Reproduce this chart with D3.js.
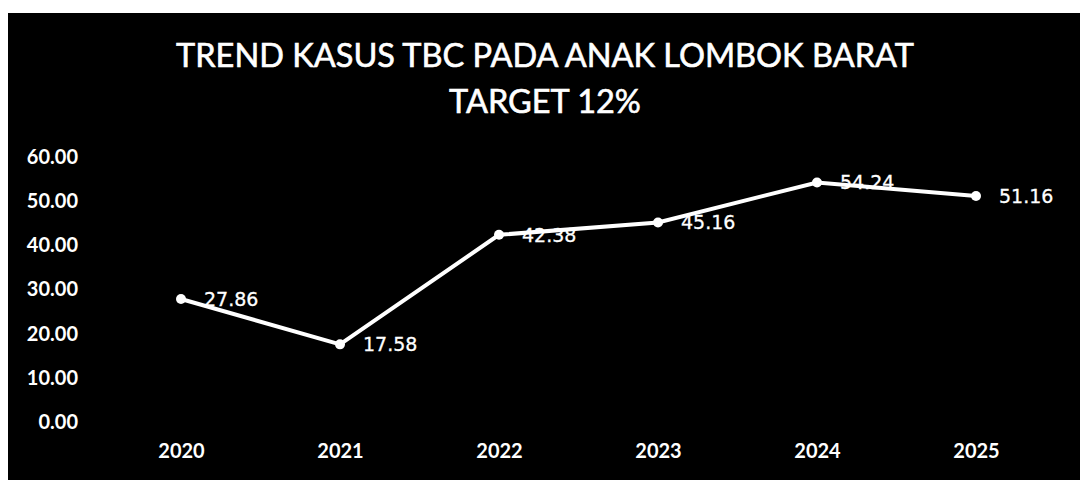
<html>
<style>
body { margin: 0; background: #fff; }
text { fill: #fff; }
</style>
<body>
<script src="https://cdn.jsdelivr.net/npm/d3@7"></script>
<script>

var years = ["2020", "2021", "2022", "2023", "2024", "2025"];
var kasus = [27.86, 17.58, 42.38, 45.16, 54.24, 51.16];
var yTicks = [0, 10, 20, 30, 40, 50, 60];
var titleLines = ["TREND KASUS TBC PADA ANAK LOMBOK BARAT", "TARGET 12%"];

var width = 1080,
    height = 480;

var svg = d3.select("body").append("svg")
    .attr("width", width)
    .attr("height", height);

// black panel, page shows a thin white edge top/left
svg.append("rect")
    .attr("x", 8)
    .attr("y", 13)
    .attr("width", width - 8)
    .attr("height", height - 13)
    .attr("fill", "#000");

var x = d3.scalePoint()
    .domain(years)
    .range([181, 976]);

var y = d3.scaleLinear()
    .domain([0, 60])
    .range([422, 157]);

// title
svg.selectAll(".title")
    .data(titleLines)
  .enter().append("text")
    .attr("class", "title")
    .attr("x", 545)
    .attr("y", function(d, i) { return i == 0 ? 67 : 113; })
    .attr("text-anchor", "middle")
    .style("font-family", "Lato, 'Open Sans', sans-serif")
    .style("font-size", "32.5px")
    .style("stroke", "#fff")
    .style("stroke-width", 0.6)
    .text(function(d) { return d; });

// y axis labels, no line / ticks
var yAxis = d3.axisLeft(y)
    .tickValues(yTicks)
    .tickSize(0)
    .tickPadding(0)
    .tickFormat(d3.format(".2f"));

svg.append("g")
    .attr("transform", "translate(78,0)")
    .call(yAxis)
    .call(function(g) { g.select(".domain").remove(); })
    .selectAll("text")
    .style("font-family", "Lato, sans-serif")
    .style("font-weight", "bold")
    .style("font-size", "20px")
    .attr("fill", "#fff");

var xAxis = d3.axisBottom(x)
    .tickSize(0)
    .tickPadding(0);

svg.append("g")
    .attr("transform", "translate(0,444)")
    .call(xAxis)
    .call(function(g) { g.select(".domain").remove(); })
    .selectAll("text")
    .style("font-family", "Lato, sans-serif")
    .style("font-weight", "bold")
    .style("font-size", "20px")
    .attr("fill", "#fff");

var line = d3.line()
    .x(function(d, i) { return x(years[i]); })
    .y(function(d) { return y(d); });

svg.append("path")
    .datum(kasus)
    .attr("d", line)
    .attr("fill", "none")
    .attr("stroke", "#fff")
    .attr("stroke-width", 4);

svg.selectAll(".dot")
    .data(kasus)
  .enter().append("circle")
    .attr("class", "dot")
    .attr("cx", function(d, i) { return x(years[i]); })
    .attr("cy", function(d) { return y(d); })
    .attr("r", 5)
    .attr("fill", "#fff");

svg.selectAll(".lbl")
    .data(kasus)
  .enter().append("text")
    .attr("class", "lbl")
    .attr("x", function(d, i) { return x(years[i]) + 23; })
    .attr("y", function(d) { return y(d); })
    .attr("dy", "0.36em")
    .style("font-family", "'DejaVu Sans', sans-serif")
    .style("font-size", "19px")
    .style("stroke", "#fff")
    .style("stroke-width", 0.3)
    .text(function(d) { return d3.format(".2f")(d); });

</script>
</body>
</html>
